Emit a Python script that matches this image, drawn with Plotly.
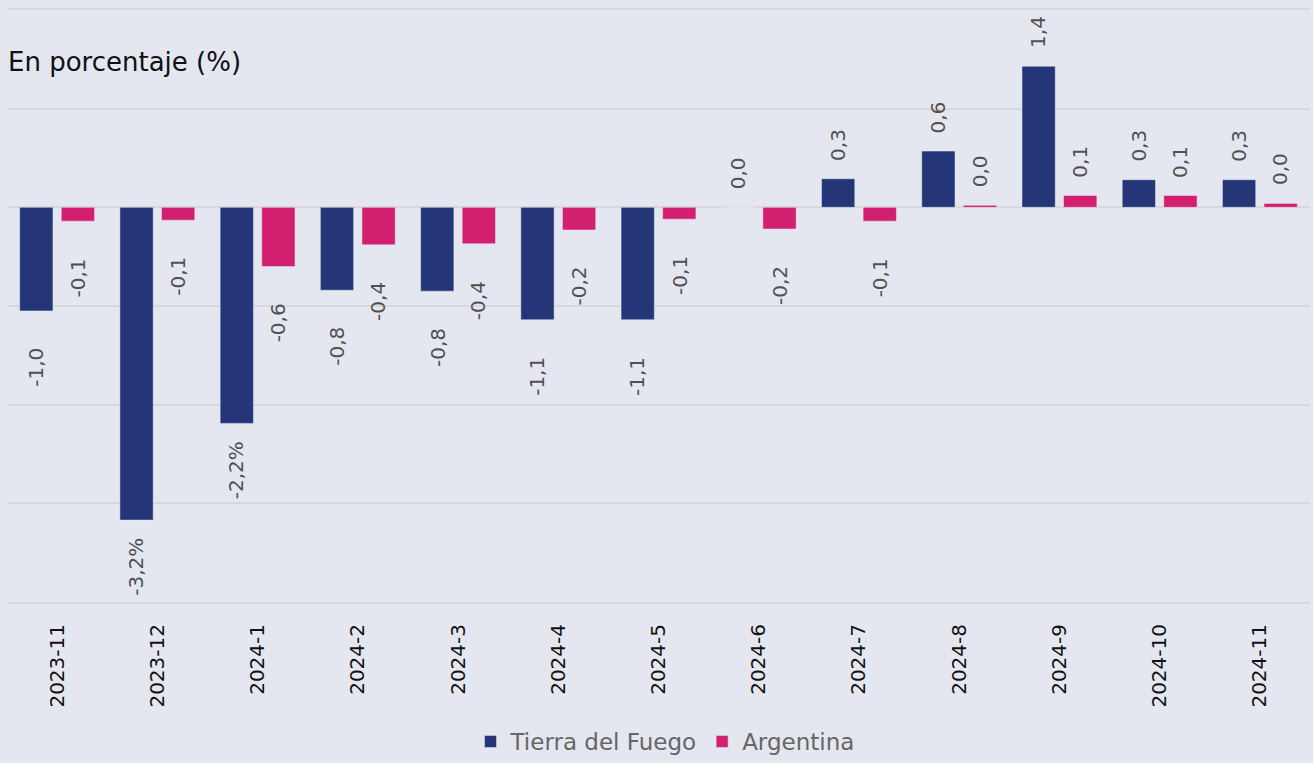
import plotly.graph_objects as go

months = ["2023-11", "2023-12", "2024-1", "2024-2", "2024-3", "2024-4", "2024-5",
          "2024-6", "2024-7", "2024-8", "2024-9", "2024-10", "2024-11"]
tdf_values = [-1.05, -3.17, -2.19, -0.84, -0.85, -1.14, -1.14, 0.0, 0.29, 0.57, 1.43, 0.28, 0.28]
arg_values = [-0.14, -0.13, -0.60, -0.38, -0.37, -0.23, -0.12, -0.22, -0.14, 0.02, 0.12, 0.12, 0.04]
tdf_labels = ["-1,0", "-3,2%", "-2,2%", "-0,8", "-0,8", "-1,1", "-1,1", "0,0", "0,3", "0,6", "1,4", "0,3", "0,3"]
arg_labels = ["-0,1", "-0,1", "-0,6", "-0,4", "-0,4", "-0,2", "-0,1", "-0,2", "-0,1", "0,0", "0,1", "0,1", "0,0"]

COLORS = {'navy': '#253678', 'pink': '#d31f70', 'bg': '#e4e7ef', 'grid': '#d7d8dc',
          'label': '#505050', 'legend': '#666666', 'text': '#111111'}
FONT = 'DejaVu Sans, sans-serif'

fig = go.Figure()
fig.add_trace(go.Bar(x=months, y=tdf_values, name='Tierra del Fuego', marker_color=COLORS['navy']))
fig.add_trace(go.Bar(x=months, y=arg_values, name='Argentina', marker_color=COLORS['pink']))

# value labels, rotated, placed beyond the bar ends
for values, labels, shift in [(tdf_values, tdf_labels, -20.75), (arg_values, arg_labels, 20.75)]:
    for m, v, t in zip(months, values, labels):
        fig.add_annotation(x=m, y=v, text=t, showarrow=False, textangle=-90,
                           xshift=shift, yanchor='bottom',
                           yshift=16 if v >= 0 else -78,
                           font=dict(size=20, color=COLORS['label'], family=FONT))

fig.add_annotation(text='En porcentaje (%)', xref='paper', yref='paper', x=0, y=0.912,
                   xanchor='left', yanchor='middle', showarrow=False, xshift=-1,
                   font=dict(size=26, color=COLORS['text'], family=FONT))

fig.update_layout(
    width=1313, height=763,
    margin=dict(l=7, r=3, t=10, b=161),
    plot_bgcolor=COLORS['bg'], paper_bgcolor=COLORS['bg'],
    font=dict(family=FONT, color=COLORS['text']),
    barmode='group', bargap=0.17, bargroupgap=0.2,
    showlegend=True,
    legend=dict(orientation='h', x=0.505, xanchor='center', y=0.0, yanchor='bottom', yref='container',
                font=dict(size=23, color=COLORS['legend']), itemclick=False),
    xaxis=dict(type='category', tickangle=-90, tickfont=dict(size=20, color=COLORS['text']),
               showgrid=False, ticklabelstandoff=12, automargin=False,
               showline=True, mirror=True, linecolor=COLORS['grid'], linewidth=2),
    yaxis=dict(range=[-4, 2], dtick=1, showticklabels=False, gridcolor=COLORS['grid'], gridwidth=2,
               zeroline=True, zerolinecolor=COLORS['grid'], zerolinewidth=2, automargin=False),
)

fig.write_html("out.html", config={'displayModeBar': False},
               post_script="document.body.style.margin='0';")
